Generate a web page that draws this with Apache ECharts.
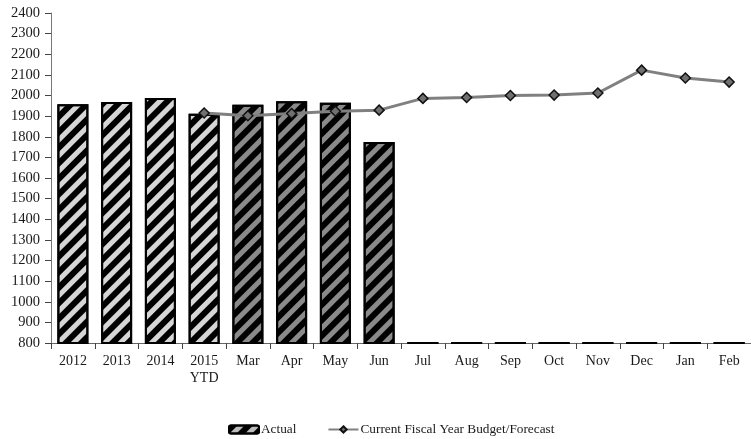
<!DOCTYPE html>
<html>
<head>
<meta charset="utf-8">
<script src="https://cdn.jsdelivr.net/npm/echarts@6/dist/echarts.min.js"></script>
<style>html,body{margin:0;padding:0;background:#fff}#c{width:751px;height:439px}</style>
</head>
<body>
<div id="c"></div>
<script>
var categories = ['2012','2013','2014','2015\nYTD','Mar','Apr','May','Jun','Jul','Aug','Sep','Oct','Nov','Dec','Jan','Feb'];
var actualValues = [1958, 1968, 1988, 1912, 1955, 1972, 1965, 1774, 805, 805, 805, 805, 805, 805, 805, 805];
var forecastValues = [null, null, null, 1915, 1902, 1913, 1924, 1929, 1986, 1990, 2000, 2002, 2012, 2123, 2085, 2065];
var yTicks = [800, 2400, 100];

var chart = echarts.init(document.getElementById('c'), null, {renderer: 'canvas'});
var font = 'Liberation Serif';
var barData = actualValues.map(function (v, i) {
  var bg = i < 4 ? '#d6d6d6' : '#8a8a8a';
  return {value: v, itemStyle: {color: bg}};
});
chart.setOption({
  animation: false,
  textStyle: {fontFamily: font, color: '#1a1a1a'},
  grid: {left: 51, top: 13, width: 709, height: 330, containLabel: false},
  xAxis: {
    type: 'category',
    data: categories,
    axisLine: {lineStyle: {color: '#666', width: 1}},
    axisTick: {show: true, length: 6, lineStyle: {color: '#444'}},
    axisLabel: {fontFamily: font, fontSize: 14, color: '#1a1a1a', margin: 10, lineHeight: 17, interval: 0}
  },
  yAxis: {
    type: 'value',
    min: yTicks[0], max: yTicks[1], interval: yTicks[2],
    splitLine: {show: false},
    axisLine: {show: true, lineStyle: {color: '#777', width: 1}},
    axisTick: {show: true, length: 6, lineStyle: {color: '#444'}},
    axisLabel: {fontFamily: font, fontSize: 14.5, color: '#1a1a1a', margin: 11, formatter: function (v) { return String(v); }}
  },
  legend: {
    bottom: -2, left: 223, itemGap: 31, itemWidth: 30, itemHeight: 8,
    textStyle: {fontFamily: font, fontSize: 13.3, color: '#1a1a1a', padding: [0, 0, 0, -3]},
    data: ['Actual', 'Current Fiscal Year Budget/Forecast']
  },
  series: [
    {
      name: 'Actual', type: 'bar', data: barData, barWidth: 31,
      itemStyle: {
        color: '#bdbdbd', borderColor: '#000', borderWidth: 2,
        decal: {symbol: 'rect', color: '#000', dashArrayX: [1, 0], dashArrayY: [6, 5], rotation: -Math.PI / 4, symbolSize: 1}
      }
    },
    {
      name: 'Current Fiscal Year Budget/Forecast', type: 'line', data: forecastValues,
      symbol: 'diamond', symbolSize: 10, showAllSymbol: true,
      lineStyle: {color: '#808080', width: 3},
      itemStyle: {color: '#707070', borderColor: '#111', borderWidth: 1.5},
      z: 5
    }
  ]
});
</script>
</body>
</html>
